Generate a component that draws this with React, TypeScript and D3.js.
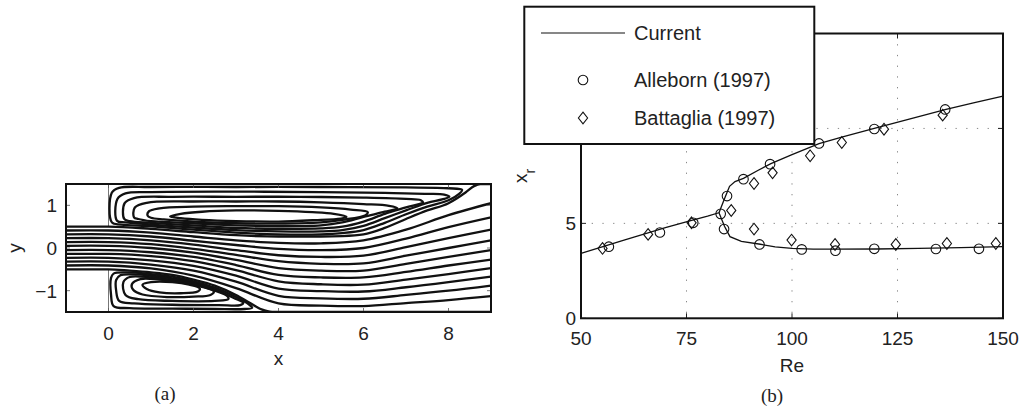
import React from "react";
import * as d3 from "d3";

type P = [number, number];

// ---------- Panel (a): streamlines ----------
const throughStations = [-1, 0, 1, 2, 3, 4, 5, 6, 7, 8, 9];
const throughLines: number[][] = [
  [0.41, 0.41, 0.36, 0.27, 0.18, 0.12, 0.11, 0.18, 0.43, 0.77, 1.05],
  [0.32, 0.32, 0.27, 0.17, 0.07, -0.02, -0.05, 0.0, 0.22, 0.49, 0.72],
  [0.23, 0.23, 0.18, 0.08, -0.05, -0.17, -0.21, -0.18, 0.02, 0.23, 0.43],
  [0.14, 0.14, 0.09, -0.02, -0.16, -0.31, -0.37, -0.36, -0.18, 0.0, 0.18],
  [0.05, 0.05, 0.0, -0.11, -0.28, -0.47, -0.53, -0.53, -0.37, -0.21, -0.05],
  [-0.05, -0.05, -0.1, -0.21, -0.4, -0.63, -0.69, -0.69, -0.56, -0.41, -0.27],
  [-0.14, -0.14, -0.19, -0.31, -0.52, -0.78, -0.85, -0.86, -0.74, -0.61, -0.47],
  [-0.23, -0.23, -0.29, -0.42, -0.65, -0.95, -1.01, -1.02, -0.92, -0.8, -0.67],
  [-0.32, -0.32, -0.39, -0.53, -0.79, -1.12, -1.18, -1.19, -1.1, -1.0, -0.88],
  [-0.41, -0.41, -0.48, -0.65, -0.94, -1.3, -1.35, -1.36, -1.29, -1.22, -1.13],
];
const upperSeparatrix: P[] = [
  [-1, 0.5], [0, 0.5], [1, 0.45], [2, 0.37], [3, 0.3], [4, 0.27], [5, 0.27], [5.5, 0.28],
  [6, 0.32], [6.5, 0.47], [7, 0.68], [7.5, 0.88], [8, 1.05], [8.4, 1.3], [8.6, 1.45], [8.75, 1.5], [9, 1.5],
];
const lowerSeparatrix: P[] = [
  [-1, -0.5], [0, -0.5], [0.5, -0.53], [1, -0.57], [1.5, -0.63], [2, -0.74], [2.5, -0.88],
  [3, -1.1], [3.3, -1.27], [3.6, -1.44], [3.85, -1.5], [9, -1.5],
];
const upperLoops: P[][] = [
  [[1.45, 0.74], [1.7, 0.8], [2.2, 0.85], [3, 0.88], [4, 0.87], [4.8, 0.84], [5.3, 0.8], [5.6, 0.73], [5.4, 0.68], [5, 0.66], [4, 0.62], [3, 0.63], [2.2, 0.66], [1.7, 0.7]],
  [[0.92, 0.76], [0.95, 0.86], [1.2, 0.93], [2, 0.97], [3, 0.98], [4, 0.98], [5, 0.95], [5.7, 0.9], [6.1, 0.84], [6.05, 0.77], [5.5, 0.66], [5, 0.6], [4, 0.57], [3, 0.58], [2, 0.62], [1.3, 0.67], [1.0, 0.71]],
  [[0.6, 0.72], [0.62, 0.95], [0.9, 1.06], [2, 1.09], [3, 1.09], [4, 1.09], [5, 1.07], [6, 1.03], [6.6, 0.99], [6.8, 0.93], [6.5, 0.85], [6, 0.73], [5.5, 0.6], [5, 0.53], [4, 0.51], [3, 0.53], [2, 0.58], [1, 0.63], [0.7, 0.68]],
  [[0.37, 0.68], [0.38, 1.05], [0.6, 1.17], [1.5, 1.2], [3, 1.2], [4.5, 1.2], [6, 1.18], [7, 1.15], [7.35, 1.12], [7.4, 1.07], [7.0, 0.95], [6.5, 0.8], [6, 0.62], [5.5, 0.5], [5, 0.46], [4, 0.45], [3, 0.47], [2, 0.53], [1, 0.59], [0.5, 0.63]],
  [[0.2, 0.64], [0.21, 1.15], [0.4, 1.28], [1, 1.31], [3, 1.32], [5, 1.31], [6.5, 1.29], [7.5, 1.27], [7.9, 1.25], [8.02, 1.2], [7.85, 1.14], [7.5, 1.06], [7, 0.88], [6.5, 0.7], [6, 0.52], [5.5, 0.42], [5, 0.39], [4, 0.39], [3, 0.42], [2, 0.48], [1, 0.55], [0.4, 0.6]],
  [[0.08, 0.6], [0.08, 1.3], [0.25, 1.41], [1, 1.43], [3, 1.43], [5, 1.43], [7, 1.42], [8, 1.4], [8.32, 1.36], [8.25, 1.27], [8, 1.12], [7.5, 0.97], [7, 0.79], [6.5, 0.59], [6, 0.42], [5.5, 0.35], [5, 0.32], [4, 0.32], [3, 0.36], [2, 0.43], [1, 0.51], [0.3, 0.55]],
];
const lowerLoops: P[][] = [
  [[0.8, -0.86], [1.0, -0.8], [1.5, -0.8], [1.9, -0.86], [2.15, -0.95], [2.1, -1.02], [1.7, -1.06], [1.2, -1.04], [0.9, -0.96]],
  [[0.55, -0.85], [0.75, -0.73], [1.2, -0.74], [1.7, -0.8], [2.2, -0.91], [2.48, -1.02], [2.4, -1.1], [2.0, -1.14], [1.4, -1.15], [0.8, -1.09], [0.58, -0.98]],
  [[0.35, -0.8], [0.5, -0.68], [1, -0.69], [1.5, -0.75], [2, -0.84], [2.5, -1.0], [2.8, -1.13], [2.82, -1.2], [2.5, -1.24], [1.5, -1.24], [0.7, -1.2], [0.4, -1.1]],
  [[0.18, -0.75], [0.28, -0.64], [0.6, -0.62], [1, -0.65], [1.5, -0.71], [2, -0.81], [2.5, -0.97], [2.95, -1.17], [3.17, -1.29], [3.1, -1.34], [2.6, -1.34], [1.5, -1.33], [0.6, -1.3], [0.25, -1.24], [0.18, -1.0]],
  [[0.06, -0.7], [0.12, -0.6], [0.4, -0.57], [1, -0.61], [1.5, -0.67], [2, -0.78], [2.5, -0.93], [3, -1.15], [3.3, -1.32], [3.38, -1.4], [3.2, -1.43], [2.5, -1.43], [1.5, -1.42], [0.5, -1.41], [0.12, -1.36], [0.06, -1.1]],
];
const aXTicks = [0, 2, 4, 6, 8];
const aYTicks = [-1, 0, 1];

// ---------- Panel (b): reattachment length ----------
const currentMainRe = [50, 60, 70, 76, 80, 82.7, 84, 85.3, 88, 92.5, 96, 100, 105, 110, 120, 130, 140, 150];
const currentMainXr = [3.42, 4.1, 4.77, 5.15, 5.38, 5.56, 4.85, 4.3, 4.05, 3.9, 3.76, 3.68, 3.64, 3.64, 3.65, 3.68, 3.72, 3.77];
const currentUpperRe = [82.7, 84, 85.2, 86.5, 88.5, 92, 95, 100, 106.4, 112, 119.5, 128, 136.5, 143, 150];
const currentUpperXr = [5.56, 6.3, 6.95, 7.2, 7.37, 7.8, 8.15, 8.62, 9.2, 9.55, 10.0, 10.5, 11.0, 11.35, 11.7];
const allebornRe = [56.6, 68.7, 76.6, 83.1, 83.9, 84.6, 88.5, 92.3, 94.8, 102.3, 106.4, 110.3, 119.5, 119.5, 134.1, 136.3, 144.3];
const allebornXr = [3.77, 4.52, 5.03, 5.5, 4.7, 6.44, 7.33, 3.89, 8.12, 3.63, 9.21, 3.56, 3.66, 9.97, 3.65, 11.0, 3.66];
const battagliaRe = [55.1, 65.9, 76.2, 85.6, 91.0, 91.0, 95.4, 99.9, 104.3, 110.2, 111.8, 121.8, 124.6, 135.7, 136.7, 148.3];
const battagliaXr = [3.68, 4.42, 5.03, 5.68, 4.7, 7.1, 7.66, 4.12, 8.56, 3.89, 9.26, 9.96, 3.89, 10.7, 3.94, 3.94];
const bXTicks = [50, 75, 100, 125, 150];
const bYTicks = [0, 5, 10, 15];
const bXGrid = [75, 100, 125];
const bYGrid = [5, 10];
const legendLabels = ["Current", "Alleborn (1997)", "Battaglia (1997)"];

const SANS = "'Liberation Sans', Arial, Helvetica, sans-serif";
const SERIF = "'Liberation Serif', 'Times New Roman', serif";

export default function App() {
  // panel a scales
  const xa = d3.scaleLinear().domain([-1, 9]).range([66, 491]);
  const ya = d3.scaleLinear().domain([-1.5, 1.5]).range([312, 184]);
  const openLine = d3.line<P>().x((d) => xa(d[0])).y((d) => ya(d[1])).curve(d3.curveCatmullRom.alpha(0.5));
  const sepLine = d3.line<P>().x((d) => xa(d[0])).y((d) => ya(d[1])).curve(d3.curveMonotoneX);
  const closedLine = d3.line<P>().x((d) => xa(d[0])).y((d) => ya(d[1])).curve(d3.curveCatmullRomClosed.alpha(0.5));

  // panel b scales
  const xb = d3.scaleLinear().domain([50, 150]).range([581, 1003]);
  const yb = d3.scaleLinear().domain([0, 15]).range([318.3, 33.5]);
  const bLine = d3.line<P>().x((d) => xb(d[0])).y((d) => yb(d[1]));
  const mainPts: P[] = currentMainRe.map((r, i) => [r, currentMainXr[i]]);
  const upperPts: P[] = currentUpperRe.map((r, i) => [r, currentUpperXr[i]]);

  const diamond = (cx: number, cy: number) =>
    `M${cx},${cy - 5.8}L${cx + 4.6},${cy}L${cx},${cy + 5.8}L${cx - 4.6},${cy}Z`;

  const ax0 = xa(-1), ax1 = xa(9), ay0 = ya(1.5), ay1 = ya(-1.5);
  const bx0 = xb(50), bx1 = xb(150), by0 = yb(15), by1 = yb(0);

  const strm = { fill: "none", stroke: "#111", strokeWidth: 2.3, strokeLinejoin: "round" as const, strokeLinecap: "round" as const };

  return (
    <svg width={1029} height={410} style={{ position: "absolute", left: 0, top: 0, background: "#fff" }} fontFamily={SANS}>
      <defs>
        <clipPath id="clipA">
          <rect x={ax0} y={ay0} width={ax1 - ax0} height={ay1 - ay0} />
        </clipPath>
      </defs>
      <rect x={0} y={0} width={1029} height={410} fill="#fff" />

      {/* ---------- Panel (a) ---------- */}
      <g clipPath="url(#clipA)">
        <line x1={xa(0)} x2={xa(0)} y1={ya(1.5)} y2={ya(0.5)} stroke="#777" strokeWidth={1} />
        <line x1={xa(0)} x2={xa(0)} y1={ya(-0.5)} y2={ya(-1.5)} stroke="#777" strokeWidth={1} />
        {throughLines.map((ys, i) => (
          <path key={"t" + i} d={openLine(throughStations.map((x, j) => [x, ys[j]] as P)) || ""} {...strm} />
        ))}
        <path d={sepLine(upperSeparatrix) || ""} {...strm} />
        <path d={sepLine(lowerSeparatrix) || ""} {...strm} />
        {upperLoops.map((pts, i) => (
          <path key={"u" + i} d={closedLine(pts) || ""} {...strm} />
        ))}
        {lowerLoops.map((pts, i) => (
          <path key={"l" + i} d={closedLine(pts) || ""} {...strm} />
        ))}
      </g>
      {aXTicks.map((t) => (
        <g key={"axt" + t}>
          <line x1={xa(t)} x2={xa(t)} y1={ay1} y2={ay1 - 4} stroke="#555" strokeWidth={0.8} />
          <line x1={xa(t)} x2={xa(t)} y1={ay0} y2={ay0 + 4} stroke="#555" strokeWidth={0.8} />
          <text x={xa(t)} y={340} fontSize={19} textAnchor="middle" fill="#222">{t}</text>
        </g>
      ))}
      {aYTicks.map((t) => (
        <g key={"ayt" + t}>
          <line x1={ax0} x2={ax0 + 4} y1={ya(t)} y2={ya(t)} stroke="#555" strokeWidth={0.8} />
          <line x1={ax1} x2={ax1 - 4} y1={ya(t)} y2={ya(t)} stroke="#555" strokeWidth={0.8} />
          <text x={57} y={ya(t) + 7} fontSize={19} textAnchor="end" fill="#222">{t < 0 ? "\u2212" + Math.abs(t) : t}</text>
        </g>
      ))}
      <rect x={ax0} y={ay0} width={ax1 - ax0} height={ay1 - ay0} fill="none" stroke="#111" strokeWidth={2} />
      <text x={(ax0 + ax1) / 2} y={365} fontSize={19} textAnchor="middle" fill="#222">x</text>
      <text transform={`translate(21,${ya(0)}) rotate(-90)`} fontSize={19} textAnchor="middle" fill="#222">y</text>
      <text x={165} y={400} fontSize={19} textAnchor="middle" fontFamily={SERIF} fill="#222">(a)</text>

      {/* ---------- Panel (b) ---------- */}
      {bXGrid.map((g) => (
        <line key={"bxg" + g} x1={xb(g)} x2={xb(g)} y1={by0} y2={by1} stroke="#888" strokeWidth={1} strokeDasharray="1.3,9.4" />
      ))}
      {bYGrid.map((g) => (
        <line key={"byg" + g} x1={bx0} x2={bx1} y1={yb(g)} y2={yb(g)} stroke="#888" strokeWidth={1} strokeDasharray="1.3,9.4" />
      ))}
      {bXTicks.map((t) => (
        <g key={"bxt" + t}>
          <line x1={xb(t)} x2={xb(t)} y1={by1} y2={by1 - 5} stroke="#222" strokeWidth={1} />
          <line x1={xb(t)} x2={xb(t)} y1={by0} y2={by0 + 5} stroke="#222" strokeWidth={1} />
          <text x={xb(t)} y={345} fontSize={19} textAnchor="middle" fill="#222">{t}</text>
        </g>
      ))}
      {bYTicks.map((t) => (
        <g key={"byt" + t}>
          <line x1={bx0} x2={bx0 + 5} y1={yb(t)} y2={yb(t)} stroke="#222" strokeWidth={1} />
          <line x1={bx1} x2={bx1 - 5} y1={yb(t)} y2={yb(t)} stroke="#222" strokeWidth={1} />
          <text x={576} y={yb(t) + 7} fontSize={19} textAnchor="end" fill="#222">{t}</text>
        </g>
      ))}
      <path d={bLine(mainPts) || ""} fill="none" stroke="#111" strokeWidth={1.3} />
      <path d={bLine(upperPts) || ""} fill="none" stroke="#111" strokeWidth={1.3} />
      {allebornRe.map((r, i) => (
        <circle key={"al" + i} cx={xb(r)} cy={yb(allebornXr[i])} r={4.8} fill="none" stroke="#111" strokeWidth={1.1} />
      ))}
      {battagliaRe.map((r, i) => (
        <path key={"ba" + i} d={diamond(xb(r), yb(battagliaXr[i]))} fill="none" stroke="#111" strokeWidth={1.1} />
      ))}
      <rect x={bx0} y={by0} width={bx1 - bx0} height={by1 - by0} fill="none" stroke="#111" strokeWidth={2} />
      <text x={(bx0 + bx1) / 2} y={372} fontSize={19} textAnchor="middle" fill="#222">Re</text>
      <text transform="translate(527,183) rotate(-90)" fontSize={19} fill="#222">
        <tspan>x</tspan>
        <tspan dy={8} fontSize={14}>r</tspan>
      </text>
      <text x={772} y={402} fontSize={19} textAnchor="middle" fontFamily={SERIF} fill="#222">(b)</text>

      {/* legend */}
      <rect x={524.3} y={6.7} width={290} height={137.3} fill="#fff" stroke="#111" strokeWidth={2} />
      <line x1={541} x2={625} y1={33} y2={33} stroke="#111" strokeWidth={1.1} />
      <circle cx={583} cy={80} r={4.8} fill="none" stroke="#111" strokeWidth={1.1} />
      <path d={diamond(583, 118)} fill="none" stroke="#111" strokeWidth={1.1} />
      {legendLabels.map((l, i) => (
        <text key={"lg" + i} x={634} y={[40, 87, 125][i]} fontSize={20} fill="#222">{l}</text>
      ))}
    </svg>
  );
}
